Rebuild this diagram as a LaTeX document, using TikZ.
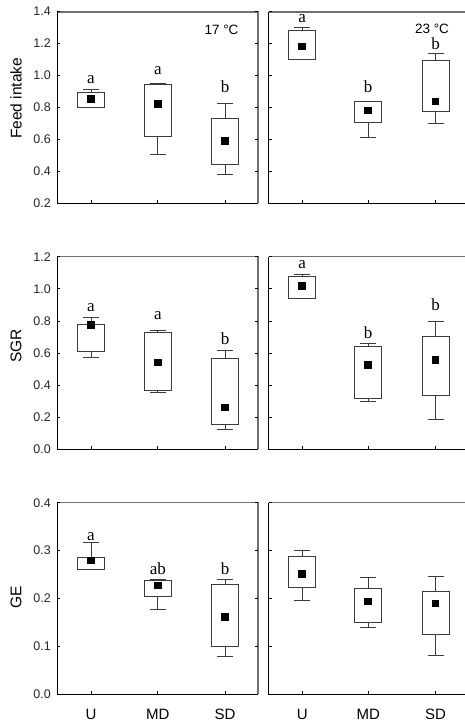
\documentclass[tikz,border=0pt]{standalone}
\usepackage{fontspec}
\setmainfont{Liberation Serif}
\setsansfont{Liberation Sans}
\definecolor{framegray}{HTML}{707070}
\definecolor{boxgray}{HTML}{3c3c3c}
\tikzset{
  frameK/.style={black,line width=1.1pt},
  frameG/.style={framegray,line width=1.1pt},
  boxline/.style={boxgray,line width=0.9pt},
  tickline/.style={black,line width=0.7pt},
  meanmark/.style={fill=black,draw=none,minimum size=7.5pt,inner sep=0pt,outer sep=0pt},
  ticklab/.style={anchor=east,inner sep=0pt,font=\sffamily\fontsize{12.5}{14}\selectfont,text=black!85},
  axtitle/.style={inner sep=0pt,font=\sffamily\fontsize{15.5}{18}\selectfont},
  catlab/.style={inner sep=0pt,font=\sffamily\fontsize{15}{18}\selectfont},
  siglab/.style={anchor=base,inner sep=0pt,font=\fontsize{17}{20}\selectfont},
  templab/.style={anchor=base,inner sep=0pt,font=\sffamily\fontsize{13.5}{16}\selectfont}
}
\newcommand{\bplot}[6]{%
  \draw[boxline] (#1,#2) -- (#1,#3) (#1,#4) -- (#1,#5);
  \draw[boxline] ({#1-8},#2) -- ({#1+8},#2) ({#1-8},#5) -- ({#1+8},#5);
  \draw[boxline,fill=white] ({#1-13.5},#3) rectangle ({#1+13.5},#4);
  \node[meanmark] at (#1,#6) {};
}
\newcommand{\panelframe}[2]{%
  \draw[frameG] (57.3,#1) -- (258,#1) -- (258,#2);
  \draw[frameK] (57.3,#1) -- (57.3,#2) -- (258,#2);
  \draw[frameG] (268.7,#1) -- (466,#1);
  \draw[frameK] (268.7,#1) -- (268.7,#2) -- (466,#2);
  \foreach \xx in {91,157.8,225,302.2,368.2,435.5} {\draw[tickline] (\xx,#2) -- ++(0,-3);}
}
\begin{document}
\begin{tikzpicture}[x=1pt,y=-1pt]
\fill[white] (0,0) rectangle (465,722);
\useasboundingbox (0,0) rectangle (465,722);

% frames
\panelframe{12}{203.3}
\panelframe{256.7}{449.3}
\panelframe{502.7}{694.3}

% ---------- Row 1: Feed intake ----------
\begin{scope}[shift={(0,235.3)},y={(0pt,160pt)}]
  \foreach \v in {0.2,0.4,0.6,0.8,1.0,1.2,1.4} {
    \draw[tickline] (57.3,\v) -- ++(3pt,0pt);
    \draw[tickline] (258,\v) -- ++(-3pt,0pt);
    \draw[tickline] (268.7,\v) -- ++(3pt,0pt);
    \node[ticklab] at (51,\v) {\v};
  }
  \bplot{91}{0.80}{0.80}{0.891}{0.91}{0.852}
  \bplot{157.8}{0.504}{0.616}{0.944}{0.952}{0.82}
  \bplot{225}{0.379}{0.44}{0.73}{0.823}{0.59}
  \bplot{302.2}{1.096}{1.096}{1.283}{1.297}{1.179}
  \bplot{368.2}{0.612}{0.704}{0.837}{0.837}{0.779}
  \bplot{435.5}{0.698}{0.777}{1.091}{1.137}{0.835}
  \node[siglab] (s11) at (91,0.95) {a};
  \node[siglab] (s12) at (157.8,1.006) {a};
  \node[siglab] (s13) at (225,0.891) {b};
  \node[siglab] (s14) at (302.2,1.329) {a};
  \node[siglab] (s15) at (368.2,0.891) {b};
  \node[siglab] (s16) at (435.5,1.1625) {b};
  \node[templab] (t17) at (221.5,1.252) {17 °C};
  \node[templab] (t23) at (432,1.2625) {23 °C};
\end{scope}

% ---------- Row 2: SGR ----------
\begin{scope}[shift={(0,449.3)},y={(0pt,160.5pt)}]
  \foreach \v in {0.0,0.2,0.4,0.6,0.8,1.0,1.2} {
    \draw[tickline] (57.3,\v) -- ++(3pt,0pt);
    \draw[tickline] (258,\v) -- ++(-3pt,0pt);
    \draw[tickline] (268.7,\v) -- ++(3pt,0pt);
    \node[ticklab] at (51,\v) {\v};
  }
  \bplot{91}{0.571}{0.608}{0.776}{0.82}{0.775}
  \bplot{157.8}{0.357}{0.369}{0.729}{0.743}{0.542}
  \bplot{225}{0.126}{0.153}{0.569}{0.614}{0.259}
  \bplot{302.2}{0.941}{0.941}{1.074}{1.09}{1.016}
  \bplot{368.2}{0.297}{0.318}{0.642}{0.660}{0.525}
  \bplot{435.5}{0.184}{0.338}{0.702}{0.795}{0.556}
  \node[siglab] (s21) at (91,0.857) {a};
  \node[siglab] (s22) at (157.8,0.806) {a};
  \node[siglab] (s23) at (225,0.650) {b};
  \node[siglab] (s24) at (302.2,1.128) {a};
  \node[siglab] (s25) at (368.2,0.692) {b};
  \node[siglab] (s26) at (435.5,0.862) {b};
\end{scope}

% ---------- Row 3: GE ----------
\begin{scope}[shift={(0,694.3)},y={(0pt,479pt)}]
  \foreach \v in {0.0,0.1,0.2,0.3,0.4} {
    \draw[tickline] (57.3,\v) -- ++(3pt,0pt);
    \draw[tickline] (258,\v) -- ++(-3pt,0pt);
    \draw[tickline] (268.7,\v) -- ++(3pt,0pt);
    \node[ticklab] at (51,\v) {\v};
  }
  \bplot{91}{0.26}{0.26}{0.2866}{0.318}{0.279}
  \bplot{157.8}{0.178}{0.2046}{0.237}{0.240}{0.227}
  \bplot{225}{0.080}{0.100}{0.229}{0.240}{0.161}
  \bplot{302.2}{0.1954}{0.2225}{0.2887}{0.3006}{0.251}
  \bplot{368.2}{0.1405}{0.149}{0.2205}{0.244}{0.194}
  \bplot{435.5}{0.082}{0.125}{0.215}{0.246}{0.19}
  \node[siglab] (s31) at (91,0.322) {a};
  \node[siglab] (s32) at (157.8,0.2505) {ab};
  \node[siglab] (s33) at (225,0.2505) {b};
\end{scope}

% axis titles
\node[axtitle,rotate=90] (yt1) at (16,98.3) {Feed intake};
\node[axtitle,rotate=90] (yt2) at (16,346) {SGR};
\node[axtitle,rotate=90] (yt3) at (16,597) {GE};

% category labels
\node[catlab] (cu1) at (91,714) {U};
\node[catlab] (cm1) at (157.8,714) {MD};
\node[catlab] (cs1) at (225,714) {SD};
\node[catlab] (cu2) at (302.2,714) {U};
\node[catlab] (cm2) at (368.2,714) {MD};
\node[catlab] (cs2) at (435.5,714) {SD};
\end{tikzpicture}
\end{document}
